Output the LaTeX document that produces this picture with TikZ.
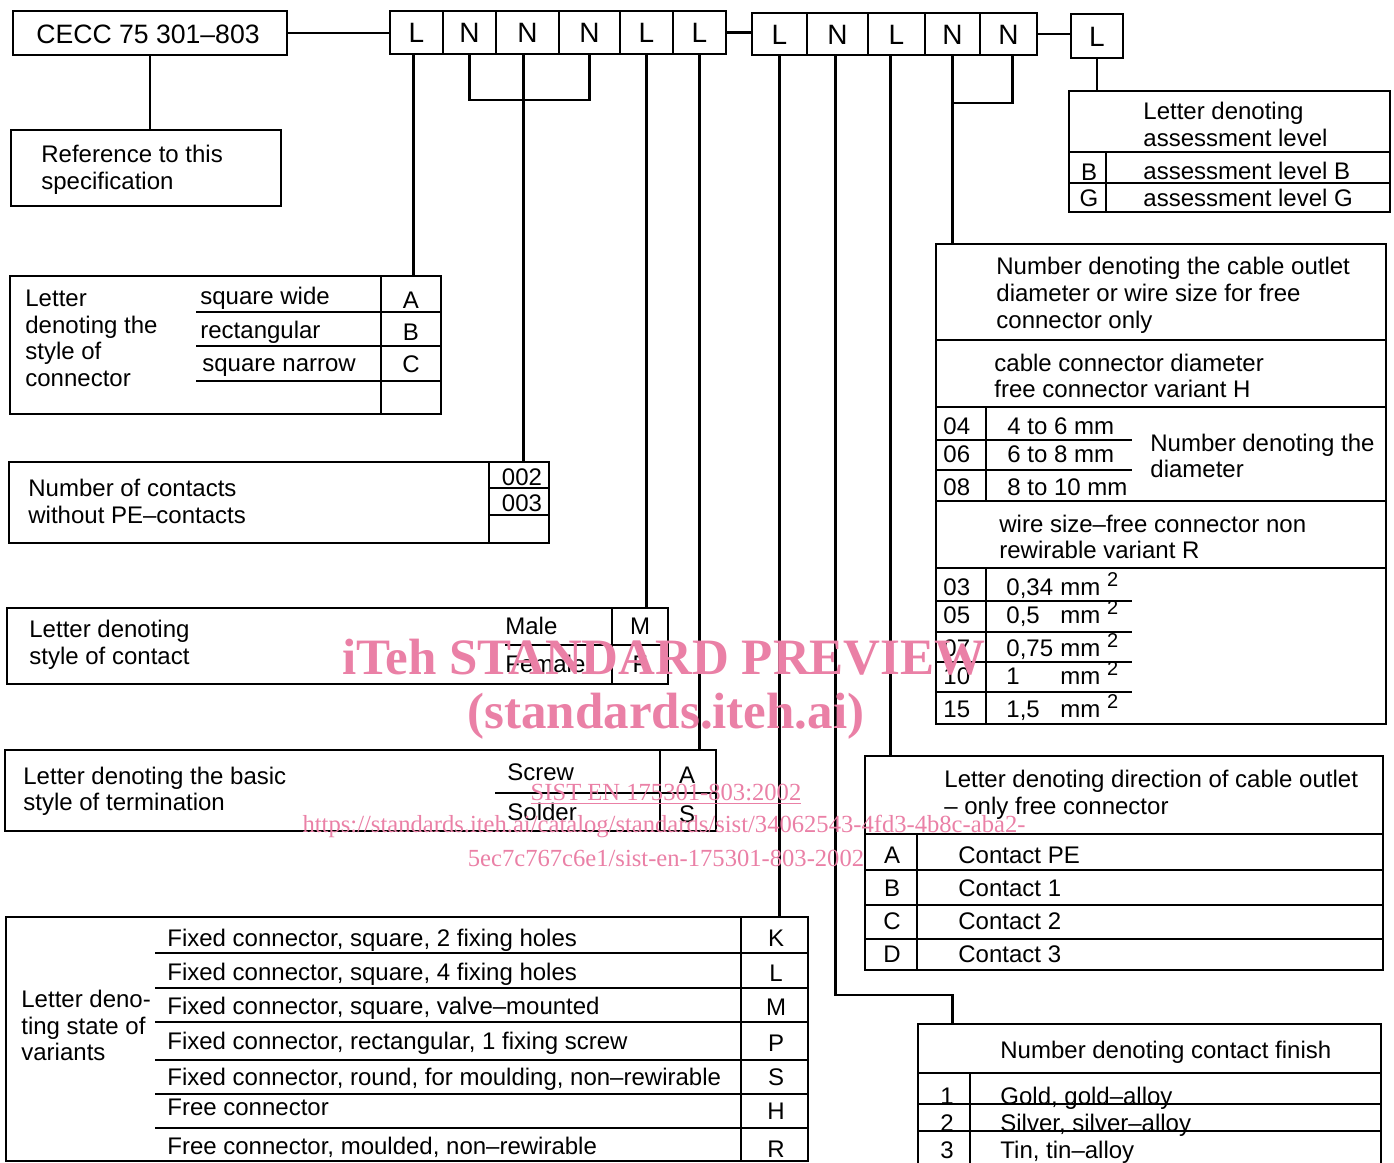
\documentclass[tikz,border=0pt]{standalone}
\usepackage{fontspec}
\setmainfont{Liberation Sans}
\newfontfamily\wmfont{Liberation Serif}
\usetikzlibrary{fit}
\definecolor{wm}{RGB}{234,128,166}
\newcommand\sqtwo{\raisebox{4.5pt}{\fontsize{10}{10}\selectfont 2}}
\begin{document}
\begin{tikzpicture}[x=0.5pt,y=-0.5pt,
  box/.style={draw, line width=1.4pt, inner sep=0pt},
  ln/.style={line width=1.2pt},
  txt/.style={anchor=west, inner sep=0pt, yshift=-1pt, font=\fontsize{12}{13.5}\selectfont, text height=8.6pt, text depth=2pt},
  ctr/.style={txt, anchor=center},
  big/.style={anchor=center, inner sep=0pt, font=\fontsize{14}{16}\selectfont, text height=10pt, text depth=0pt},
  wmbig/.style={anchor=center, inner sep=0pt, text=wm, font=\wmfont\bfseries\fontsize{25.5}{28}\selectfont},
  wmsm/.style={anchor=center, inner sep=0pt, text=wm, font=\wmfont\fontsize{12.3}{14}\selectfont}]
\useasboundingbox (0,0) rectangle (1394,1163);

% ---------- top row ----------
\node[box, fit={(13,11) (287,55)}] (cecc) {};
\node[big, font=\fontsize{13.3}{16}\selectfont] (ceccT) at (148,33) {CECC 75 301–803};
\node[box, fit={(11,130) (281,206)}] (ref) {};
\node[txt] (ref1) at (41,154) {Reference to this};
\node[txt] (ref2) at (41,181) {specification};

\node[box, fit={(390,11) (443,54)}] (g1a) {};
\node[box, fit={(443,11) (496,54)}] (g1b) {};
\node[box, fit={(496,11) (559,54)}] (g1c) {};
\node[box, fit={(559,11) (620,54)}] (g1d) {};
\node[box, fit={(620,11) (673,54)}] (g1e) {};
\node[box, fit={(673,11) (726,54)}] (g1f) {};
\node[big] (t1a) at (g1a) {L};
\node[big] (t1b) at (g1b) {N};
\node[big] (t1c) at (g1c) {N};
\node[big] (t1d) at (g1d) {N};
\node[big] (t1e) at (g1e) {L};
\node[big] (t1f) at (g1f) {L};

\node[box, fit={(752,13) (807,55)}] (g2a) {};
\node[box, fit={(807,13) (868,55)}] (g2b) {};
\node[box, fit={(868,13) (925,55)}] (g2c) {};
\node[box, fit={(925,13) (980,55)}] (g2d) {};
\node[box, fit={(980,13) (1037,55)}] (g2e) {};
\node[big] (t2a) at (g2a) {L};
\node[big] (t2b) at (g2b) {N};
\node[big] (t2c) at (g2c) {L};
\node[big] (t2d) at (g2d) {N};
\node[big] (t2e) at (g2e) {N};

\node[box, fit={(1071,14) (1123,58)}] (asl) {};
\node[big] (tasl) at (asl) {L};

% ---------- assessment level ----------
\node[box, fit={(1069,91) (1390,212)}] (ass) {};
\draw[ln] (1069,152) -- (1390,152);
\draw[ln] (1069,183) -- (1390,183);
\draw[ln] (1106,152) -- (1106,212);
\node[txt] (ass1) at (1143,111) {Letter denoting};
\node[txt] (ass2) at (1143,138) {assessment level};
\node[ctr] (assB) at (1089,172) {B};
\node[txt] (assBt) at (1143,171) {assessment level B};
\node[ctr] (assG) at (1089,198) {G};
\node[txt] (assGt) at (1143,198) {assessment level G};

% ---------- style of connector ----------
\node[box, fit={(10,276) (441,414)}] (sty) {};
\draw[ln] (381,276) -- (381,414);
\draw[ln] (196,312) -- (441,312);
\draw[ln] (196,346) -- (441,346);
\draw[ln] (196,381) -- (441,381);
\node[txt] (sty1) at (25,298) {Letter};
\node[txt] (sty2) at (25,325) {denoting the};
\node[txt] (sty3) at (25,351) {style of};
\node[txt] (sty4) at (25,378) {connector};
\node[txt] (styA) at (200,296) {square wide};
\node[txt] (styB) at (200,330) {rectangular};
\node[txt] (styC) at (202,363) {square narrow};
\node[ctr] (styAl) at (411,300) {A};
\node[ctr] (styBl) at (411,332) {B};
\node[ctr] (styCl) at (411,364) {C};

% ---------- number of contacts ----------
\node[box, fit={(9,462) (549,543)}] (cnt) {};
\draw[ln] (489,462) -- (489,543);
\draw[ln] (489,488) -- (549,488);
\draw[ln] (489,515) -- (549,515);
\node[txt] (cnt1) at (28,488) {Number of contacts};
\node[txt] (cnt2) at (28,515) {without PE–contacts};
\node[ctr] (c002) at (522,477) {002};
\node[ctr] (c003) at (522,503) {003};

% ---------- style of contact ----------
\node[box, fit={(7,608) (668,684)}] (mf) {};
\draw[ln] (612,608) -- (612,684);
\draw[ln] (505,645) -- (668,645);
\node[txt] (mf1) at (29,629) {Letter denoting};
\node[txt] (mf2) at (29,656) {style of contact};
\node[txt] (mfM) at (505,626) {Male};
\node[txt] (mfF) at (505,664) {Female};
\node[ctr] (mfMl) at (640,626) {M};
\node[ctr] (mfFl) at (640,664) {F};

% ---------- termination ----------
\node[box, fit={(5,750) (716,831)}] (term) {};
\draw[ln] (660,750) -- (660,831);
\draw[ln] (495,793) -- (716,793);
\node[txt] (term1) at (23,776) {Letter denoting the basic};
\node[txt] (term2) at (23,802) {style of termination};
\node[txt] (termA) at (507,772) {Screw};
\node[txt] (termS) at (507,812) {Solder};
\node[ctr] (termAl) at (687,775) {A};
\node[ctr] (termSl) at (687,814) {S};

% ---------- cable outlet ----------
\node[box, fit={(936,244) (1386,724)}] (cab) {};
\draw[ln] (936,340) -- (1386,340);
\draw[ln] (936,407) -- (1386,407);
\draw[ln] (936,501) -- (1386,501);
\draw[ln] (936,568) -- (1386,568);
\draw[ln] (986,407) -- (986,501);
\draw[ln] (986,568) -- (986,724);
\foreach \yy in {440,470,601,632,662,692} \draw[ln] (936,\yy) -- (1132,\yy);
\node[txt] (cab1) at (996,266) {Number denoting the cable outlet};
\node[txt] (cab2) at (996,293) {diameter or wire size for free};
\node[txt] (cab3) at (996,320) {connector only};
\node[txt] (cab4) at (994,363) {cable connector diameter};
\node[txt] (cab5) at (994,389) {free connector variant H};
\node[txt] (n04) at (943,426) {04};
\node[txt] (n06) at (943,454) {06};
\node[txt] (n08) at (943,487) {08};
\node[txt] (v04) at (1007,426) {4 to 6 mm};
\node[txt] (v06) at (1007,454) {6 to 8 mm};
\node[txt] (v08) at (1007,487) {8 to 10 mm};
\node[txt] (cab6) at (1150,443) {Number denoting the};
\node[txt] (cab7) at (1150,469) {diameter};
\node[txt] (cab8) at (999,524) {wire size–free connector non};
\node[txt] (cab9) at (999,550) {rewirable variant R};
\node[txt] (n03) at (943,587) {03};
\node[txt] (n05) at (943,615) {05};
\node[txt] (n07) at (943,648) {07};
\node[txt] (n10) at (943,676) {10};
\node[txt] (n15) at (943,709) {15};
\node[txt] (v03) at (1006,587) {0,34};
\node[txt] (v05) at (1006,615) {0,5};
\node[txt] (v07) at (1006,648) {0,75};
\node[txt] (v10) at (1006,676) {1};
\node[txt] (v15) at (1006,709) {1,5};
\node[txt] (m03) at (1060,587) {mm \sqtwo};
\node[txt] (m05) at (1060,615) {mm \sqtwo};
\node[txt] (m07) at (1060,648) {mm \sqtwo};
\node[txt] (m10) at (1060,676) {mm \sqtwo};
\node[txt] (m15) at (1060,709) {mm \sqtwo};

% ---------- direction of cable outlet ----------
\node[box, fit={(865,756) (1383,970)}] (dir) {};
\draw[ln] (865,834) -- (1383,834);
\draw[ln] (917,834) -- (917,970);
\foreach \yy in {870,905,939} \draw[ln] (865,\yy) -- (1383,\yy);
\node[txt] (dir1) at (944,779) {Letter denoting direction of cable outlet};
\node[txt] (dir2) at (944,806) {– only free connector};
\node[ctr] (dirA) at (892,855) {A};
\node[ctr] (dirB) at (892,888) {B};
\node[ctr] (dirC) at (892,921) {C};
\node[ctr] (dirD) at (892,954) {D};
\node[txt] (dirAt) at (958,855) {Contact PE};
\node[txt] (dirBt) at (958,888) {Contact 1};
\node[txt] (dirCt) at (958,921) {Contact 2};
\node[txt] (dirDt) at (958,954) {Contact 3};

% ---------- variants ----------
\node[box, fit={(6,917) (808,1161)}] (var) {};
\draw[ln] (741,917) -- (741,1161);
\foreach \yy in {953,988,1022,1060,1094,1128} \draw[ln] (155,\yy) -- (808,\yy);
\node[txt] (var1) at (21,999) {Letter deno-};
\node[txt] (var2) at (21,1026) {ting state of};
\node[txt] (var3) at (21,1052) {variants};
\node[txt] (vK) at (167,938) {Fixed connector, square, 2 fixing holes};
\node[txt] (vL) at (167,972) {Fixed connector, square, 4 fixing holes};
\node[txt] (vM) at (167,1006) {Fixed connector, square, valve–mounted};
\node[txt] (vP) at (167,1041) {Fixed connector, rectangular, 1 fixing screw};
\node[txt] (vS) at (167,1077) {Fixed connector, round, for moulding, non–rewirable};
\node[txt] (vH) at (167,1107) {Free connector};
\node[txt] (vR) at (167,1146) {Free connector, moulded, non–rewirable};
\node[ctr] (lK) at (776,938) {K};
\node[ctr] (lL) at (776,973) {L};
\node[ctr] (lM) at (776,1007) {M};
\node[ctr] (lP) at (776,1043) {P};
\node[ctr] (lS) at (776,1077) {S};
\node[ctr] (lH) at (776,1111) {H};
\node[ctr] (lR) at (776,1149) {R};

% ---------- contact finish ----------
\node[box, fit={(918,1024) (1381,1170)}] (fin) {};
\draw[ln] (918,1073) -- (1381,1073);
\draw[ln] (970,1073) -- (970,1170);
\draw[ln] (918,1104) -- (1381,1104);
\draw[ln] (918,1131) -- (1381,1131);
\node[txt] (fin0) at (1000,1050) {Number denoting contact finish};
\node[ctr] (f1) at (947,1096) {1};
\node[ctr] (f2) at (947,1123) {2};
\node[ctr] (f3) at (947,1150) {3};
\node[txt] (f1t) at (1000,1096) {Gold, gold–alloy};
\node[txt] (f2t) at (1000,1123) {Silver, silver–alloy};
\node[txt] (f3t) at (1000,1150) {Tin, tin–alloy};

% ---------- connectors ----------
\coordinate (brA) at (0,100);
\coordinate (brB) at (0,103);
\coordinate (jog) at (0,995);
\draw[ln] (cecc.east) -- (cecc.east -| g1a.west);
\draw[ln] (g1f.east) -- (g1f.east -| g2a.west);
\draw[ln] (g2e.east) -- (g2e.east -| asl.west);
\draw[ln] (cecc.south) -- (cecc.south |- ref.north);
\draw[ln] ([xshift=-1.5pt]g1a.south) -- ([xshift=-1.5pt]g1a.south |- sty.north);
\draw[ln] (g1b.south) -- (g1b.south |- brA) -| (g1d.south);
\draw[ln] ([xshift=-2pt]g1c.south) -- ([xshift=-2pt]g1c.south |- cnt.north);
\draw[ln] (g1e.south) -- (g1e.south |- mf.north);
\draw[ln] (g1f.south) -- (g1f.south |- term.north);
\draw[ln] (g2a.south) -- (g2a.south |- var.north);
\draw[ln] ([xshift=-1pt]g2b.south) -- ([xshift=-1pt]g2b.south |- jog) -| (g2d.south |- fin.north);
\draw[ln] ([xshift=-3pt]g2c.south) -- ([xshift=-3pt]g2c.south |- dir.north);
\draw[ln] (g2d.south) -- (g2d.south |- cab.north);
\draw[ln] ([xshift=2pt]g2e.south) -- ([xshift=2pt]g2e.south |- brB) -| (g2d.south);
\draw[ln] (asl.south) -- (asl.south |- ass.north);

% ---------- watermark ----------
\node[wmbig] (wm1) at (664,657) {iTeh STANDARD PREVIEW};
\node[wmbig] (wm2) at (666,716) {(standards.iteh.ai)};
\node[wmsm] (wm3) at (666,794) {\underline{SIST EN 175301-803:2002}};
\node[wmsm] (wm4) at (664,826) {https://standards.iteh.ai/catalog/standards/sist/34062543-4fd3-4b8c-aba2-};
\node[wmsm] (wm5) at (666,858) {5ec7c767c6e1/sist-en-175301-803-2002};
\end{tikzpicture}
\end{document}
